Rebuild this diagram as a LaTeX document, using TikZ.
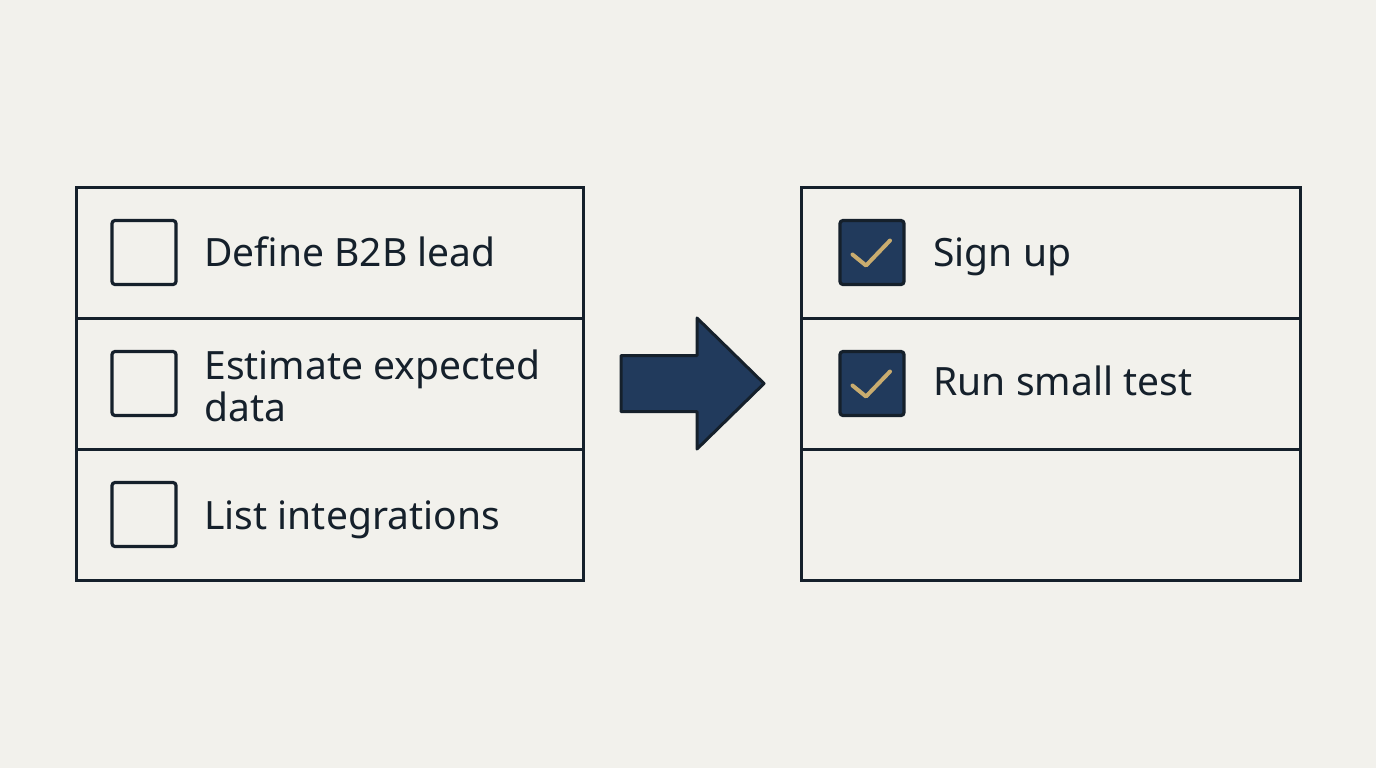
\documentclass[tikz,border=0pt]{standalone}
\usepackage{fontspec}
\setmainfont{Noto Sans}
\usetikzlibrary{positioning, calc}
\definecolor{bgcol}{HTML}{F2F1EC}
\definecolor{inkcol}{HTML}{15202B}
\definecolor{navy}{HTML}{213A5C}
\definecolor{tickcol}{HTML}{C9AC6F}

\begin{document}
\begin{tikzpicture}[x=0.5pt, y=-0.5pt,
  every node/.style={font=\fontsize{19.5}{21}\selectfont, text=inkcol},
  row/.style={draw=inkcol, line width=1.5pt, minimum width=253.5pt,
    minimum height=65.5pt, outer sep=0pt, inner sep=0pt},
  box/.style={draw=inkcol, line width=1.6pt, rounded corners=1.5pt,
    minimum size=32pt, outer sep=0pt, inner sep=0pt},
  donebox/.style={box, fill=navy},
  item/.style={align=left, inner sep=0pt},
  tick/.style={draw=tickcol, line width=2pt, line cap=round, line join=round},
  bigarrow/.style={fill=navy, draw=inkcol, line width=1.5pt, line join=round}
]
\fill[bgcol] (0,0) rectangle (1376,768);
\useasboundingbox (0,0) rectangle (1376,768);

% left list
\node[row] (l1) at (329.5,252.5) {};
\node[row, below=0pt of l1] (l2) {};
\node[row, below=0pt of l2] (l3) {};

\node[box, right=18pt of l1.west] (lb1) {};
\node[box, right=18pt of l2.west] (lb2) {};
\node[box, right=18pt of l3.west] (lb3) {};

\node[item, right=14pt of lb1, anchor=base west, yshift=-7pt] (lt1) {Define B2B lead};
\node[item, right=14pt of lb2, yshift=-1pt] (lt2) {Estimate expected\\data};
\node[item, right=14pt of lb3, anchor=base west, yshift=-7.5pt] (lt3) {List integrations};

% right list
\node[row, minimum width=249.5pt] (r1) at (1050.5,252.5) {};
\node[row, minimum width=249.5pt, below=0pt of r1] (r2) {};
\node[row, minimum width=249.5pt, below=0pt of r2] (r3) {};

\node[donebox, right=19.5pt of r1.west] (rb1) {};
\node[donebox, right=19.5pt of r2.west] (rb2) {};

\node[item, right=14.5pt of rb1, anchor=base west, yshift=-7pt] (rt1) {Sign up};
\node[item, right=14.5pt of rb2, anchor=base west, yshift=-6pt] (rt2) {Run small test};

\draw[tick] ($(rb1.center)+(-19.5,2)$) -- ++(13.5,11) -- ++(24,-25);
\draw[tick] ($(rb2.center)+(-19.5,2)$) -- ++(13.5,11) -- ++(24,-25);

% arrow between the lists
\coordinate (mid) at ($(l2.east)!0.5!(r2.west)$);
\draw[bigarrow] ($(mid)+(-71,-28)$) -- ($(mid)+(5,-28)$) -- ($(mid)+(5,-65.5)$)
  -- ($(mid)+(72,0)$) -- ($(mid)+(5,65.5)$) -- ($(mid)+(5,28)$)
  -- ($(mid)+(-71,28)$) -- cycle;
\end{tikzpicture}
\end{document}
